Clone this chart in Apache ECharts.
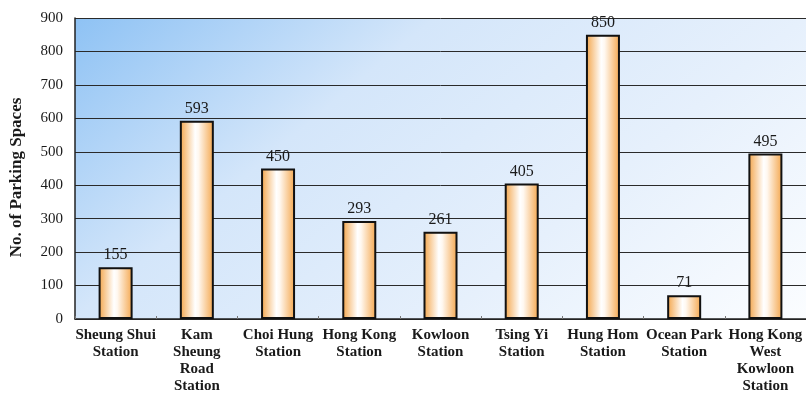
<!DOCTYPE html>
<html>
<head>
<meta charset="utf-8">
<script src="https://cdn.jsdelivr.net/npm/echarts@6/dist/echarts.min.js"></script>
<style>
  html, body { margin: 0; padding: 0; background: #ffffff; }
  #chart { width: 806px; height: 396px; }
</style>
</head>
<body>
<div id="chart"></div>
<script>
// Station names (line breaks as shown under each bar)
const stations = [
  'Sheung Shui\nStation',
  'Kam\nSheung\nRoad\nStation',
  'Choi Hung\nStation',
  'Hong Kong\nStation',
  'Kowloon\nStation',
  'Tsing Yi\nStation',
  'Hung Hom\nStation',
  'Ocean Park\nStation',
  'Hong Kong\nWest\nKowloon\nStation'
];

// Number of parking spaces at each station
const parkingSpaces = [155, 593, 450, 293, 261, 405, 850, 71, 495];

// Value axis range
const yMin = 0;
const yMax = 900;
const yStep = 100;

const serif = '"Liberation Serif", "DejaVu Serif", serif';

const chart = echarts.init(document.getElementById('chart'));

chart.setOption({
  animation: false,
  backgroundColor: '#ffffff',
  grid: {
    left: 75,
    right: 0,
    top: 18,
    bottom: 77,
    show: true,
    borderWidth: 0,
    // plot area fades from sky blue (top-left) to near white (bottom-right)
    backgroundColor: {
      type: 'linear', x: 0, y: 0, x2: 0.61, y2: 1.78,
      colorStops: [
        { offset: 0, color: '#8ec2f4' },
        { offset: 0.33, color: '#d4e6fa' },
        { offset: 0.67, color: '#e6f0fc' },
        { offset: 1, color: '#fbfdff' }
      ]
    }
  },
  xAxis: {
    type: 'category',
    data: stations,
    axisLine: { lineStyle: { color: '#222222', width: 1.5 } },
    axisTick: { show: true, inside: true, length: 3, alignWithLabel: false, lineStyle: { color: '#777777' } },
    axisLabel: {
      interval: 0,
      margin: 8,
      color: '#1a1a1a',
      fontFamily: serif,
      fontWeight: 'bold',
      fontSize: 15,
      lineHeight: 17
    }
  },
  yAxis: {
    type: 'value',
    min: yMin,
    max: yMax,
    interval: yStep,
    name: 'No. of Parking Spaces',
    nameLocation: 'middle',
    nameGap: 50,
    nameRotate: 90,
    nameTextStyle: {
      color: '#1a1a1a',
      fontFamily: serif,
      fontWeight: 'bold',
      fontSize: 17,
      // nudge the title a little below the plot's midline
      padding: [0, 18, 0, 0]
    },
    axisLine: { show: true, lineStyle: { color: '#222222', width: 1.5 } },
    axisTick: { show: false },
    axisLabel: {
      margin: 12,
      color: '#1a1a1a',
      fontFamily: serif,
      fontSize: 15
    },
    splitLine: { show: true, lineStyle: { color: '#2a2a2a', width: 1 } }
  },
  series: [{
    type: 'bar',
    data: parkingSpaces,
    barWidth: 34,
    itemStyle: {
      borderColor: '#111111',
      borderWidth: 2,
      color: {
        type: 'linear', x: 0, y: 0, x2: 1, y2: 0,
        colorStops: [
          { offset: 0, color: '#f3a448' },
          { offset: 0.45, color: '#ffffff' },
          { offset: 0.55, color: '#fff8f0' },
          { offset: 1, color: '#f4a64c' }
        ]
      }
    },
    label: {
      show: true,
      position: 'top',
      distance: 4,
      color: '#1a1a1a',
      fontFamily: serif,
      fontSize: 16
    }
  }]
});
</script>
</body>
</html>
